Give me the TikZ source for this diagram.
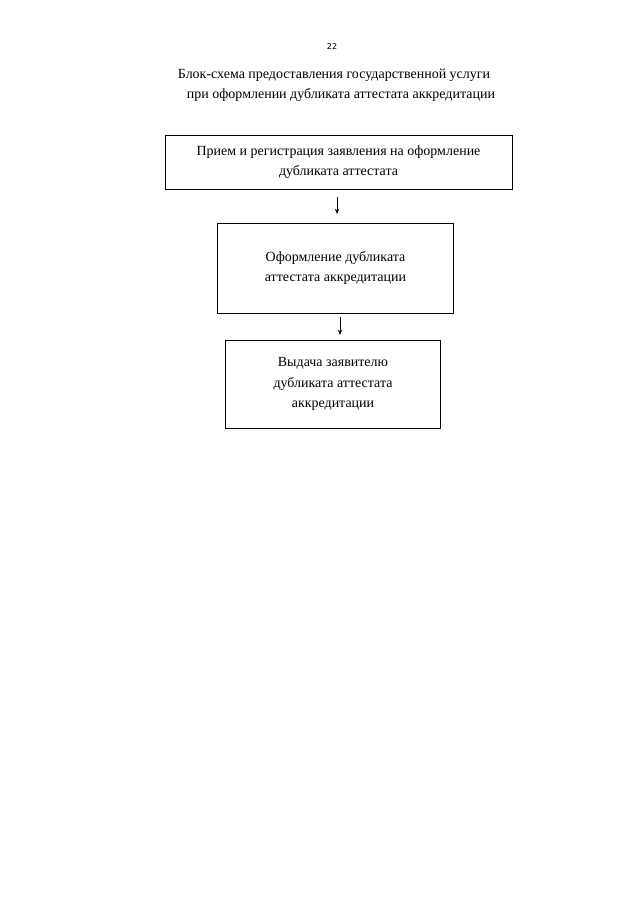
\documentclass[tikz,border=0pt]{standalone}
\usepackage{fontspec}
\setmainfont{Liberation Serif}
\setsansfont{DejaVu Sans}
\usetikzlibrary{arrows.meta}
\begin{document}
\begin{tikzpicture}[x=0.93pt,y=-0.93pt,
    stage/.style={draw,line width=0.6pt,inner sep=0pt,align=center,
        font={\fontsize{13}{19}\selectfont}},
    title/.style={font={\fontsize{13}{19}\selectfont},align=center},
    flow/.style={-{Stealth[length=5pt,width=4pt]},line width=0.6pt}]
    \useasboundingbox (0,0) rectangle (640,905);

    % Page number and title
    \node[font={\sffamily\fontsize{7.5}{9}\selectfont}] (page) at (332,47) {22};
    \node[title] (head) at (334,85) {Блок-схема предоставления государственной услуги\\
        \quad при оформлении дубликата аттестата аккредитации};

    % Boxes
    \node[stage,minimum width=323,minimum height=50] (recv) at (338.5,162)
        {Прием и регистрация заявления на оформление\\дубликата аттестата};
    \node[stage,minimum width=219,minimum height=84] (make) at (335.5,268)
        {Оформление дубликата\\аттестата аккредитации};
    \node[stage,minimum width=200,minimum height=82] (give) at (333,384)
        {Выдача заявителю\\дубликата аттестата\\аккредитации};

    % Arrows
    \coordinate (a1) at (337,197);
    \coordinate (b1) at (337,214);
    \coordinate (a2) at (340,317);
    \coordinate (b2) at (340,335);
    \draw[flow] (a1) -- (b1);
    \draw[flow] (a2) -- (b2);
\end{tikzpicture}
\end{document}
